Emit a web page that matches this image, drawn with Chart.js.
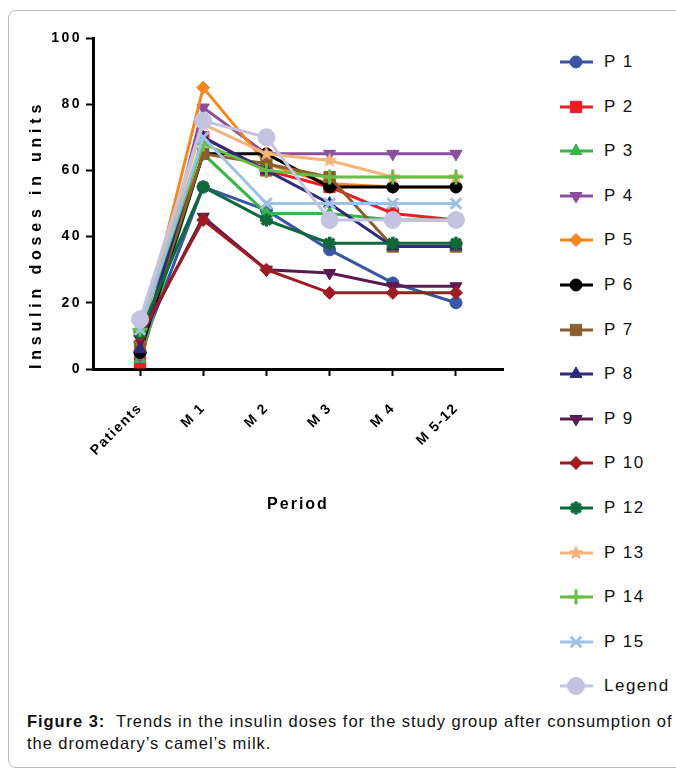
<!DOCTYPE html>
<html>
<head>
<meta charset="utf-8">
<script src="https://cdn.jsdelivr.net/npm/chart.js@4"></script>
<style>
  html, body { margin: 0; padding: 0; background: #fff; }
  body { width: 676px; height: 769px; position: relative; overflow: hidden; font-family: "Liberation Sans", Arial, sans-serif; }
  #frame { position: absolute; left: 8px; top: 10px; width: 740px; height: 756px; border: 1px solid #b9b9b9; border-radius: 8px; }
  #chart { position: absolute; left: 0; top: 0; }
  #legend { position: absolute; left: 556px; top: 0; }
  .item { position: absolute; left: 0; width: 120px; height: 20px; }
  .item canvas { position: absolute; left: 0; top: 0; }
  .item span { position: absolute; left: 48px; top: 0; font-size: 17px; line-height: 20px; letter-spacing: 1.5px; color: #111; white-space: nowrap; }
  #caption { position: absolute; left: 27px; top: 710px; font-size: 16.5px; line-height: 22px; letter-spacing: 0.95px; color: #111; white-space: nowrap; }
</style>
</head>
<body>
<div id="frame"></div>
<canvas id="chart" width="540" height="520"></canvas>
<div id="legend"></div>
<div id="caption"><b>Figure 3:</b>&nbsp; Trends in the insulin doses for the study group after consumption of<br>the dromedary’s camel’s milk.</div>
<script>
const periods = ["Patients", "M 1", "M 2", "M 3", "M 4", "M 5-12"];
const yTicks = [0, 20, 40, 60, 80, 100];

const p1 = [5, 55, 48, 36, 26, 20];
const p2 = [2, 70, 60, 55, 47, 45];
const p3 = [3, 65, 47, 47, 45, 45];
const p4 = [4, 79, 65, 65, 65, 65];
const p5 = [8, 85, 62, 56, 55, 55];
const p6 = [5, 65, 65, 55, 55, 55];
const p7 = [7, 65, 62, 58, 37, 37];
const p8 = [6, 70, 60, 50, 37, 37];
const p9 = [9, 46, 30, 29, 25, 25];
const p10 = [10, 45, 30, 23, 23, 23];
const p12 = [11, 55, 45, 38, 38, 38];
const p13 = [13, 74, 65, 63, 58, 58];
const p14 = [12, 68, 60, 58, 58, 58];
const p15 = [12, 70, 50, 50, 50, 50];
const legendSeries = [15, 75, 70, 45, 45, 45];

const names = ["P 1", "P 2", "P 3", "P 4", "P 5", "P 6", "P 7", "P 8", "P 9", "P 10", "P 12", "P 13", "P 14", "P 15", "Legend"];
const series = [p1, p2, p3, p4, p5, p6, p7, p8, p9, p10, p12, p13, p14, p15, legendSeries];

const colors = ["#3a55a4", "#ed1c24", "#39b54a", "#8a4f9e", "#f7861f", "#000000", "#8b5e2b",
  "#2b2d7b", "#5c1a52", "#9d1c22", "#0e6a3a", "#f5b57a", "#6abd45", "#9cc3e7", "#c4c3e1"];
const markers = ["circle", "rect", "triangle", "triangleDown", "rectRot", "circle", "rect",
  "triangle", "triangleDown", "rectRot", "star", "star5", "cross", "crossRot", "circle"];

// 5-point filled star, used as a canvas pointStyle
function starCanvas(color, r) {
  const c = document.createElement("canvas");
  c.width = c.height = 2 * r + 2;
  const g = c.getContext("2d");
  g.fillStyle = color;
  g.beginPath();
  for (let k = 0; k < 10; k++) {
    const rad = k % 2 ? r * 0.45 : r;
    const a = -Math.PI / 2 + k * Math.PI / 5;
    g.lineTo(r + 1 + rad * Math.cos(a), r + 1 + rad * Math.sin(a));
  }
  g.closePath();
  g.fill();
  return c;
}

function pointOpts(m, color) {
  switch (m) {
    case "triangleDown": return { style: "triangle", rot: 180, r: 7, bw: 1 };
    case "rect": return { style: "rect", rot: 0, r: 8, bw: 1 };
    case "rectRot": return { style: "rectRot", rot: 0, r: 6.5, bw: 1 };
    case "triangle": return { style: "triangle", rot: 0, r: 7, bw: 1 };
    case "star": return { style: "star", rot: 0, r: 6.5, bw: 3.5 };
    case "star5": return { style: starCanvas(color, 8), rot: 0, r: 8, bw: 0 };
    case "cross": return { style: "cross", rot: 0, r: 7.5, bw: 3 };
    case "crossRot": return { style: "crossRot", rot: 0, r: 7.5, bw: 3 };
    default: return { style: "circle", rot: 0, r: color === "#c4c3e1" ? 8.5 : 6, bw: 1 };
  }
}

// per-scale letter spacing for axis text
const spacing = { x: { title: "2px", ticks: "1.5px" }, y: { title: "4.8px", ticks: "2.5px" } };
["drawTitle", "drawLabels"].forEach(function (name) {
  const orig = Chart.Scale.prototype[name];
  Chart.Scale.prototype[name] = function () {
    const ctx = this.ctx;
    ctx.save();
    const sp = spacing[this.id];
    if (sp) ctx.letterSpacing = name === "drawTitle" ? sp.title : sp.ticks;
    orig.apply(this, arguments);
    ctx.restore();
  };
});

const datasets = series.map(function (vals, i) {
  const p = pointOpts(markers[i], colors[i]);
  return {
    label: names[i],
    data: vals.map((v, j) => ({ x: j, y: v })),
    borderColor: colors[i],
    backgroundColor: colors[i],
    borderWidth: 3,
    pointStyle: p.style,
    pointRotation: p.rot,
    pointRadius: p.r,
    pointBorderWidth: p.bw,
    pointBackgroundColor: colors[i],
    pointBorderColor: colors[i],
    tension: 0,
    fill: false,
    order: series.length - i
  };
});

const xTickFont = { family: "'Liberation Sans', Arial, sans-serif", size: 14, weight: "bold" };
const yTickFont = { family: "'Liberation Sans', Arial, sans-serif", size: 14, weight: "bold" };
const titleFont = { family: "'Liberation Sans', Arial, sans-serif", size: 16, weight: "bold" };

const chart = new Chart(document.getElementById("chart").getContext("2d"), {
  type: "line",
  data: { datasets: datasets },
  options: {
    responsive: false,
    animation: false,
    layout: { padding: { left: 0, top: 38, right: 37, bottom: 0 } },
    plugins: { legend: { display: false }, tooltip: { enabled: false } },
    scales: {
      x: {
        type: "linear",
        min: -0.744,
        max: 5.744,
        afterBuildTicks: s => { s.ticks = periods.map((_, i) => ({ value: i })); },
        afterFit: s => { s.height = 151; },
        ticks: {
          callback: v => periods[v],
          minRotation: 45,
          maxRotation: 45,
          autoSkip: false,
          padding: 24,
          color: "#000",
          font: xTickFont
        },
        grid: { drawOnChartArea: false, tickLength: 7, tickWidth: 2, tickColor: "#000" },
        border: { color: "#000", width: 3 },
        title: { display: true, text: "Period", color: "#000", font: titleFont, padding: { top: 0, bottom: 6 } }
      },
      y: {
        min: 0,
        max: 100,
        afterBuildTicks: s => { s.ticks = yTicks.map(v => ({ value: v })); },
        afterFit: s => { s.width = 93; },
        ticks: { padding: 4, color: "#000", font: yTickFont },
        grid: { drawOnChartArea: false, tickLength: 7, tickWidth: 2, tickColor: "#000" },
        border: { color: "#000", width: 3 },
        title: { display: true, text: "Insulin doses in units", align: "start", color: "#000", font: titleFont, padding: { top: 27, bottom: 0 } }
      }
    }
  }
});

// legend built from the chart's datasets
const legendEl = document.getElementById("legend");
chart.data.datasets.forEach(function (ds, i) {
  const item = document.createElement("div");
  item.className = "item";
  item.style.top = (52 + i * 44.6) + "px";
  const c = document.createElement("canvas");
  c.width = 40; c.height = 20;
  const g = c.getContext("2d");
  g.strokeStyle = ds.borderColor;
  g.lineWidth = 3;
  g.beginPath(); g.moveTo(4, 10); g.lineTo(37, 10); g.stroke();
  g.fillStyle = ds.pointBackgroundColor;
  g.strokeStyle = ds.pointBorderColor;
  g.lineWidth = ds.pointBorderWidth;
  if (Chart.helpers && Chart.helpers.drawPoint) {
    Chart.helpers.drawPoint(g, { pointStyle: ds.pointStyle, rotation: ds.pointRotation, radius: ds.pointRadius, borderWidth: ds.pointBorderWidth }, 20, 10);
  }
  const t = document.createElement("span");
  t.textContent = ds.label;
  item.appendChild(c);
  item.appendChild(t);
  legendEl.appendChild(item);
});
</script>
</body>
</html>
